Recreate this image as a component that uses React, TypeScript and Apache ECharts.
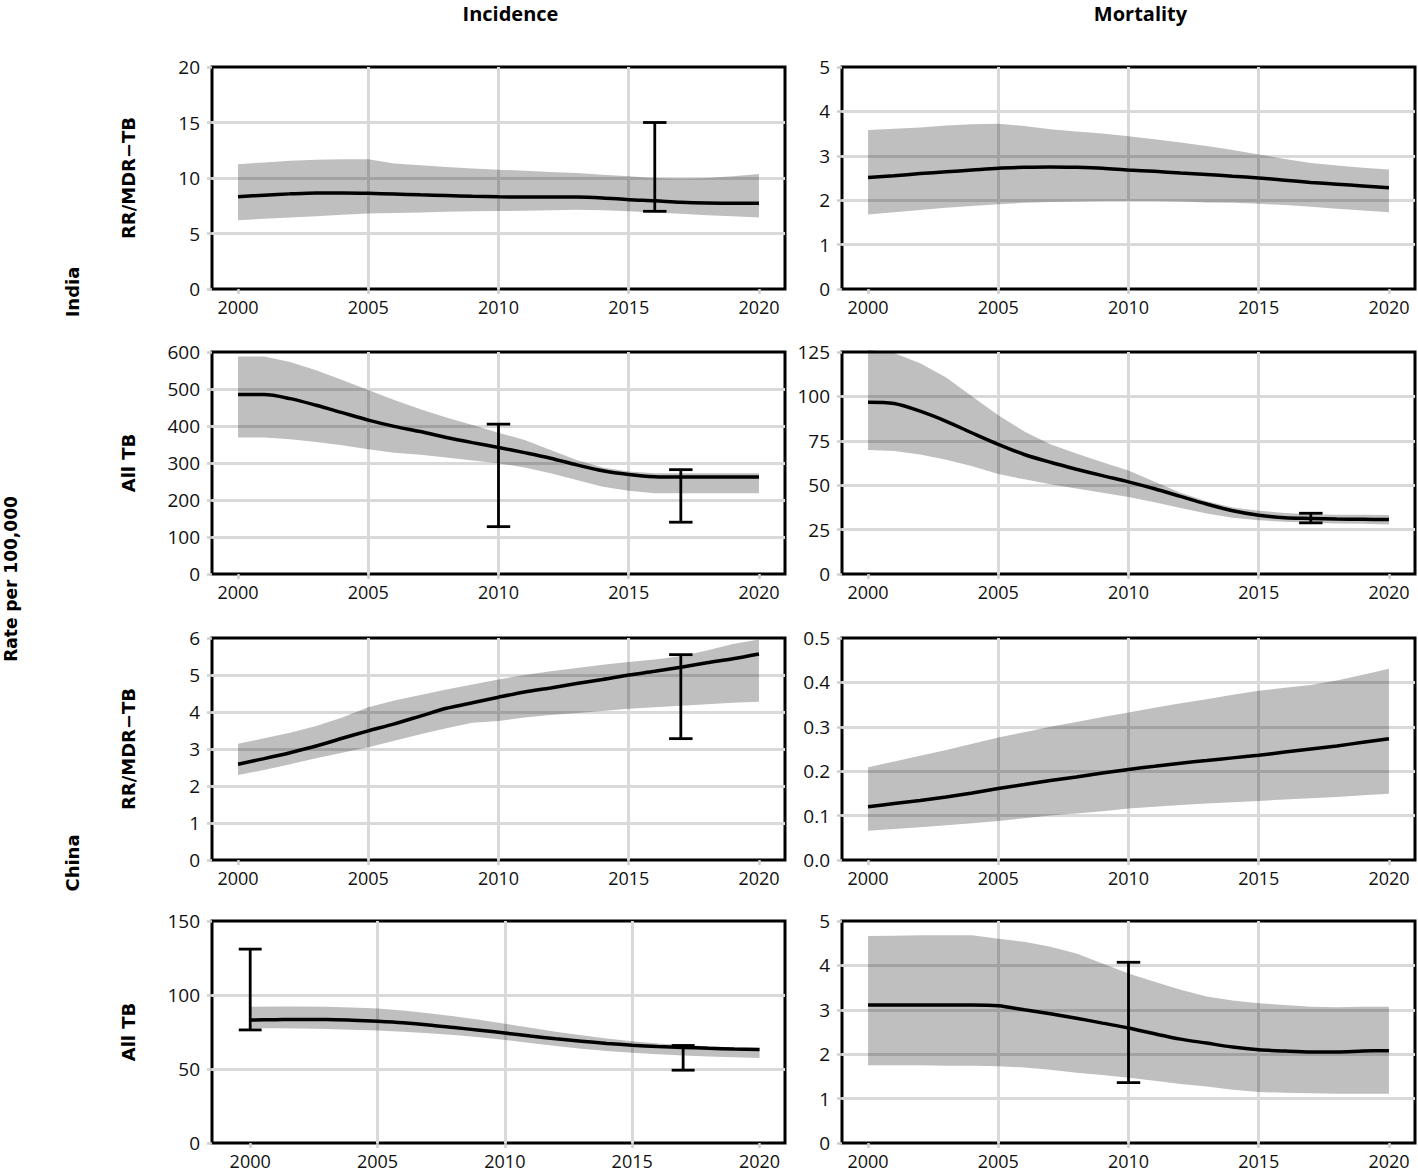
import React, { useEffect, useRef } from "react";
import * as echarts from "echarts";

const years = [2000, 2001, 2002, 2003, 2004, 2005, 2006, 2007, 2008, 2009, 2010, 2011, 2012, 2013, 2014, 2015, 2016, 2017, 2018, 2019, 2020];

const colTitles = ["Incidence", "Mortality"];
const rowTitles = ["RR/MDR\u2212TB", "All TB", "RR/MDR\u2212TB", "All TB"];
const countries = ["India", "China"];
const yTitle = "Rate per 100,000";

// India RR/MDR-TB incidence
const inMdrIncMid = [8.32, 8.45, 8.57, 8.65, 8.65, 8.62, 8.55, 8.48, 8.42, 8.35, 8.3, 8.28, 8.28, 8.28, 8.2, 8.05, 7.95, 7.82, 7.75, 7.73, 7.72];
const inMdrIncHi = [11.25, 11.4, 11.55, 11.65, 11.7, 11.7, 11.3, 11.15, 11.0, 10.85, 10.75, 10.65, 10.55, 10.45, 10.3, 10.15, 10.0, 9.95, 10.0, 10.15, 10.35];
const inMdrIncLo = [6.2, 6.32, 6.45, 6.55, 6.68, 6.8, 6.85, 6.9, 6.95, 7.0, 7.02, 7.05, 7.1, 7.15, 7.1, 7.0, 6.9, 6.78, 6.65, 6.55, 6.45];
const inMdrIncErr = [[2016, 7.0, 15.0]];

// India RR/MDR-TB mortality
const inMdrMortMid = [2.51, 2.55, 2.6, 2.64, 2.68, 2.72, 2.74, 2.75, 2.74, 2.72, 2.68, 2.65, 2.61, 2.58, 2.54, 2.5, 2.45, 2.4, 2.36, 2.32, 2.28];
const inMdrMortHi = [3.58, 3.61, 3.64, 3.68, 3.71, 3.72, 3.67, 3.6, 3.55, 3.5, 3.44, 3.37, 3.3, 3.22, 3.13, 3.03, 2.93, 2.84, 2.78, 2.73, 2.69];
const inMdrMortLo = [1.68, 1.73, 1.78, 1.83, 1.87, 1.91, 1.94, 1.96, 1.97, 1.98, 1.98, 1.98, 1.97, 1.95, 1.94, 1.92, 1.89, 1.85, 1.81, 1.77, 1.73];
const inMdrMortErr: number[][] = [];

// India all TB incidence
const inAllIncMid = [485, 485, 474, 456, 436, 416, 399, 385, 369, 355, 342, 328, 313, 295, 279, 269, 263, 262, 262, 262, 262];
const inAllIncHi = [588, 588, 573, 551, 524, 497, 470, 445, 423, 403, 382, 362, 335, 308, 288, 277, 272, 272, 272, 272, 272];
const inAllIncLo = [369, 369, 364, 357, 348, 337, 328, 322, 315, 307, 299, 288, 272, 254, 236, 225, 218, 218, 218, 218, 218];
const inAllIncErr = [[2010, 128, 405], [2017, 140, 282]];

// India all TB mortality
const inAllMortMid = [96.7, 96.0, 91.7, 86.0, 79.4, 73.0, 67.3, 62.9, 59.0, 55.4, 51.9, 48.0, 43.7, 39.4, 35.6, 33.1, 31.7, 31.3, 30.9, 30.8, 30.7];
const inAllMortHi = [126.3, 124.4, 118.7, 110.6, 100.0, 89.4, 80.2, 73.0, 67.9, 62.9, 58.3, 51.9, 45.8, 41.0, 37.5, 35.6, 34.4, 33.7, 33.4, 33.3, 33.2];
const inAllMortLo = [69.8, 69.2, 67.3, 64.4, 60.6, 56.3, 53.3, 50.6, 48.1, 45.8, 43.3, 40.4, 37.1, 34.0, 31.7, 30.2, 29.4, 28.8, 28.5, 28.3, 27.9];
const inAllMortErr = [[2017, 28.8, 34.2]];

// China RR/MDR-TB incidence
const cnMdrIncMid = [2.59, 2.74, 2.9, 3.08, 3.29, 3.49, 3.68, 3.89, 4.1, 4.25, 4.4, 4.54, 4.65, 4.77, 4.88, 5.0, 5.1, 5.21, 5.33, 5.44, 5.57];
const cnMdrIncHi = [3.14, 3.29, 3.44, 3.62, 3.85, 4.13, 4.31, 4.46, 4.61, 4.74, 4.88, 5.0, 5.1, 5.19, 5.28, 5.35, 5.42, 5.51, 5.66, 5.84, 5.96];
const cnMdrIncLo = [2.3, 2.43, 2.59, 2.75, 2.9, 3.05, 3.22, 3.4, 3.56, 3.71, 3.76, 3.85, 3.92, 3.97, 4.03, 4.09, 4.13, 4.17, 4.21, 4.25, 4.28];
const cnMdrIncErr = [[2017, 3.28, 5.55]];

// China RR/MDR-TB mortality
const cnMdrMortMid = [0.12, 0.127, 0.134, 0.142, 0.151, 0.161, 0.17, 0.179, 0.187, 0.196, 0.204, 0.211, 0.218, 0.224, 0.23, 0.236, 0.243, 0.25, 0.257, 0.265, 0.273];
const cnMdrMortHi = [0.209, 0.222, 0.235, 0.248, 0.262, 0.276, 0.288, 0.3, 0.311, 0.322, 0.332, 0.343, 0.353, 0.362, 0.372, 0.381, 0.388, 0.394, 0.404, 0.417, 0.431];
const cnMdrMortLo = [0.066, 0.07, 0.074, 0.078, 0.083, 0.088, 0.094, 0.1, 0.105, 0.11, 0.116, 0.12, 0.124, 0.127, 0.13, 0.133, 0.136, 0.139, 0.142, 0.146, 0.149];
const cnMdrMortErr: number[][] = [];

// China all TB incidence
const cnAllIncMid = [83.1, 83.3, 83.5, 83.5, 83.0, 82.2, 81.2, 79.8, 78.0, 76.2, 74.3, 72.3, 70.4, 68.8, 67.3, 66.1, 65.2, 64.6, 64.0, 63.5, 63.2];
const cnAllIncHi = [92.1, 92.2, 92.2, 92.0, 91.6, 90.9, 89.5, 87.7, 85.6, 83.2, 80.6, 77.9, 75.2, 72.8, 70.6, 68.8, 67.3, 66.2, 65.3, 64.6, 64.2];
const cnAllIncLo = [77.5, 77.5, 77.3, 77.0, 76.6, 76.0, 75.2, 74.2, 72.9, 71.4, 69.6, 67.6, 65.6, 63.7, 62.2, 61.0, 60.0, 59.2, 58.5, 57.9, 57.5];
const cnAllIncErr = [[2000, 76.4, 131], [2017, 49.2, 65.9]];

// China all TB mortality
const cnAllMortMid = [3.11, 3.11, 3.11, 3.11, 3.11, 3.09, 3.0, 2.91, 2.81, 2.7, 2.59, 2.46, 2.34, 2.25, 2.16, 2.1, 2.07, 2.05, 2.05, 2.07, 2.08];
const cnAllMortHi = [4.66, 4.67, 4.68, 4.68, 4.68, 4.6, 4.53, 4.42, 4.27, 4.04, 3.82, 3.63, 3.45, 3.3, 3.21, 3.15, 3.11, 3.07, 3.06, 3.07, 3.07];
const cnAllMortLo = [1.75, 1.75, 1.75, 1.74, 1.74, 1.73, 1.7, 1.65, 1.58, 1.53, 1.47, 1.4, 1.33, 1.27, 1.2, 1.15, 1.13, 1.12, 1.11, 1.11, 1.11];
const cnAllMortErr = [[2010, 1.36, 4.07]];

// y-axis scales per panel (row-major: row, col)
const yMax = [20, 5, 600, 125, 6, 0.5, 150, 5];
const yStep = [5, 1, 100, 25, 1, 0.1, 50, 1];
const yDecimals = [0, 0, 0, 0, 0, 1, 0, 0];
const xMin = [1999, 1999, 1999, 1999, 1999, 1999, 1998.5, 1999];
const xMax = [2021, 2021, 2021, 2021, 2021, 2021, 2021, 2021];
const xTicks = [2000, 2005, 2010, 2015, 2020];

const panels = [
  { mid: inMdrIncMid, hi: inMdrIncHi, lo: inMdrIncLo, err: inMdrIncErr },
  { mid: inMdrMortMid, hi: inMdrMortHi, lo: inMdrMortLo, err: inMdrMortErr },
  { mid: inAllIncMid, hi: inAllIncHi, lo: inAllIncLo, err: inAllIncErr },
  { mid: inAllMortMid, hi: inAllMortHi, lo: inAllMortLo, err: inAllMortErr },
  { mid: cnMdrIncMid, hi: cnMdrIncHi, lo: cnMdrIncLo, err: cnMdrIncErr },
  { mid: cnMdrMortMid, hi: cnMdrMortHi, lo: cnMdrMortLo, err: cnMdrMortErr },
  { mid: cnAllIncMid, hi: cnAllIncHi, lo: cnAllIncLo, err: cnAllIncErr },
  { mid: cnAllMortMid, hi: cnAllMortHi, lo: cnAllMortLo, err: cnAllMortErr },
];

// layout
const COL_LEFT = [212, 842];
const ROW_TOP = [67, 352, 638, 921];
const PANEL_W = 573;
const PANEL_H = 222;
const CAP = 0.9;

const TICK_FONT = "Open Sans";
const BOLD_FONT = "DejaVu Sans";

export default function App() {
  const ref = useRef<HTMLDivElement>(null);

  useEffect(() => {
    if (!ref.current) return;
    const chart = echarts.init(ref.current, undefined, { renderer: "svg" });

    const grids: any[] = [];
    const xAxes: any[] = [];
    const yAxes: any[] = [];
    const series: any[] = [];

    panels.forEach((p, i) => {
      const row = Math.floor(i / 2);
      const col = i % 2;
      grids.push({
        left: COL_LEFT[col],
        top: ROW_TOP[row],
        width: PANEL_W,
        height: PANEL_H,
        show: true,
        borderColor: "#000",
        borderWidth: 3,
        backgroundColor: "transparent",
      });
      xAxes.push({
        type: "value",
        gridIndex: i,
        min: xMin[i],
        max: xMax[i],
        axisLine: { show: false },
        axisTick: { show: true, length: 5, lineStyle: { color: "#cfcfcf", width: 2.5 }, customValues: xTicks },
        axisLabel: {
          customValues: xTicks,
          margin: 9,
          fontFamily: TICK_FONT,
          fontSize: 18,
          color: "#111",
          formatter: (v: number) => String(v),
        },
        splitLine: { show: true, showMinLine: false, showMaxLine: false, lineStyle: { color: "#d9d9d9", width: 3 } },
      });
      yAxes.push({
        type: "value",
        gridIndex: i,
        min: 0,
        max: yMax[i],
        interval: yStep[i],
        axisLine: { show: false },
        axisTick: { show: true, length: 5, lineStyle: { color: "#cfcfcf", width: 2.5 } },
        axisLabel: {
          margin: 12,
          fontFamily: TICK_FONT,
          fontSize: 19,
          color: "#111",
          formatter: (v: number) => v.toFixed(yDecimals[i]),
        },
        splitLine: { show: true, showMinLine: false, showMaxLine: false, lineStyle: { color: "#d9d9d9", width: 3 } },
      });
      // uncertainty band: one polygon built from the lower and upper bounds
      series.push({
        type: "custom",
        xAxisIndex: i,
        yAxisIndex: i,
        data: years.map((y, k) => [y, p.lo[k], p.hi[k]]),
        encode: { x: 0, y: [1, 2] },
        silent: true,
        z: 2,
        renderItem: (params: any, api: any) => {
          if (params.dataIndex !== 0) return null;
          const pts: number[][] = [];
          years.forEach((y, k) => pts.push(api.coord([y, p.lo[k]])));
          for (let k = years.length - 1; k >= 0; k--) pts.push(api.coord([years[k], p.hi[k]]));
          return {
            type: "polygon",
            shape: { points: pts },
            style: { fill: "rgba(0,0,0,0.25)", stroke: null },
          };
        },
      });
      series.push({
        type: "line",
        xAxisIndex: i,
        yAxisIndex: i,
        data: years.map((y, k) => [y, p.mid[k]]),
        symbol: "none",
        smooth: 0.3,
        lineStyle: { color: "#000", width: 3.5 },
        silent: true,
        z: 3,
      });
      if (p.err.length) {
        series.push({
          type: "custom",
          xAxisIndex: i,
          yAxisIndex: i,
          data: p.err,
          encode: { x: 0, y: [1, 2] },
          silent: true,
          z: 4,
          renderItem: (params: any, api: any) => {
            const x = api.value(0);
            const lo = api.value(1);
            const hi = api.value(2);
            const top = api.coord([x, hi]);
            const bot = api.coord([x, lo]);
            const l = api.coord([x - CAP / 2, hi])[0];
            const r = api.coord([x + CAP / 2, hi])[0];
            const style = { stroke: "#000", lineWidth: 2.8, fill: null };
            return {
              type: "group",
              children: [
                { type: "line", shape: { x1: top[0], y1: top[1], x2: bot[0], y2: bot[1] }, style },
                { type: "line", shape: { x1: l, y1: top[1], x2: r, y2: top[1] }, style },
                { type: "line", shape: { x1: l, y1: bot[1], x2: r, y2: bot[1] }, style },
              ],
            };
          },
        });
      }
    });

    const boldStyle = (text: string, size: number, family: string) => ({
      text,
      font: `bold ${size}px "${family}"`,
      fill: "#000",
      textAlign: "center",
      textVerticalAlign: "middle",
    });

    const graphics: any[] = [];
    colTitles.forEach((t, c) => {
      graphics.push({
        type: "text",
        x: COL_LEFT[c] + PANEL_W / 2 + 12,
        y: 13,
        style: boldStyle(t, 20, TICK_FONT),
      });
    });
    rowTitles.forEach((t, r) => {
      graphics.push({
        type: "text",
        x: 128,
        y: ROW_TOP[r] + PANEL_H / 2,
        rotation: Math.PI / 2,
        style: boldStyle(t, 18, BOLD_FONT),
      });
    });
    countries.forEach((t, c) => {
      graphics.push({
        type: "text",
        x: 72,
        y: ROW_TOP[c * 2] + PANEL_H + 3,
        rotation: Math.PI / 2,
        style: boldStyle(t, 18, BOLD_FONT),
      });
    });
    graphics.push({
      type: "text",
      x: 11,
      y: 579,
      rotation: Math.PI / 2,
      style: boldStyle(yTitle, 17, BOLD_FONT),
    });

    chart.setOption({
      animation: false,
      backgroundColor: "#fff",
      grid: grids,
      xAxis: xAxes,
      yAxis: yAxes,
      series,
      graphic: graphics,
    });

    return () => chart.dispose();
  }, []);

  return (
    <div
      ref={ref}
      style={{ position: "absolute", left: 0, top: 0, width: 1418, height: 1172 }}
    />
  );
}
